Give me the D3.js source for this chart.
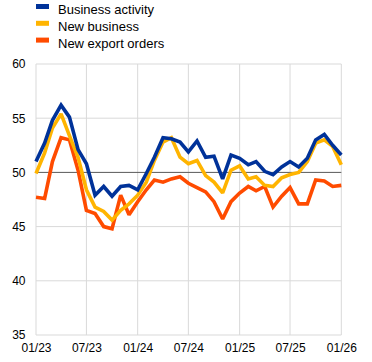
<!DOCTYPE html>
<html>
<head>
<meta charset="utf-8">
<script src="https://cdn.jsdelivr.net/npm/d3@7"></script>
<style>
  html, body { margin: 0; padding: 0; background: #fff; }
  svg { display: block; font-family: "Liberation Sans", Arial, sans-serif; }
</style>
</head>
<body>
<svg id="chart" width="372" height="362"></svg>
<script>
// Monthly PMI data, Jan 2023 – Jan 2026
const startMonth = "2023-01";
const businessActivity = [51.0, 52.7, 54.8, 56.2, 55.1, 52.1, 50.8, 47.9, 48.7, 47.8, 48.7, 48.8, 48.4,
  49.9, 51.4, 53.2, 53.1, 52.8, 51.9, 52.9, 51.4, 51.5, 49.4, 51.6, 51.3, 50.7, 51.0, 50.1, 49.8,
  50.5, 51.0, 50.5, 51.3, 53.0, 53.5, 52.5, 51.6];
const newBusiness = [49.9, 51.8, 54.1, 55.4, 53.4, 51.4, 48.4, 46.8, 46.4, 45.6, 46.5, 47.1, 47.9,
  49.1, 51.1, 52.8, 53.2, 51.4, 50.8, 51.1, 49.7, 49.1, 48.1, 50.2, 50.6, 49.4, 49.6, 48.8, 48.7,
  49.5, 49.8, 50.0, 51.0, 52.7, 53.0, 52.4, 50.7];
const newExportOrders = [47.7, 47.6, 51.0, 53.2, 53.0, 50.2, 46.5, 46.2, 45.0, 44.8, 47.9, 46.1, 47.3,
  48.4, 49.3, 49.1, 49.4, 49.6, 49.0, 48.6, 48.2, 47.3, 45.7, 47.3, 48.1, 48.7, 48.3, 48.7, 46.8,
  47.8, 48.6, 47.1, 47.1, 49.3, 49.2, 48.7, 48.8];
const seriesNames = ["Business activity", "New business", "New export orders"];
const seriesColors = ["#003299", "#FFB400", "#FF4B00"];
const yTicks = [35, 40, 45, 50, 55, 60];
const xTickLabels = ["01/23", "07/23", "01/24", "07/24", "01/25", "07/25", "01/26"];

(function () {
const parse = d3.timeParse("%Y-%m");
const fmt = d3.timeFormat("%m/%y");
const start = parse(startMonth);
const dates = businessActivity.map((_, i) => d3.timeMonth.offset(start, i));
const xTickDates = xTickLabels.map(l => {
  const [m, yy] = l.split("/");
  return parse("20" + yy + "-" + m);
});

const svg = d3.select("#chart");
const mLeft = 36, mRight = 341.3, mTop = 64, mBottom = 335;

const x = d3.scaleTime().domain([dates[0], dates[dates.length - 1]]).range([mLeft, mRight]);
const y = d3.scaleLinear().domain([35, 60]).range([mBottom, mTop]);

// Horizontal gridlines
svg.append("g").selectAll("line").data(yTicks.filter(t => t !== 50)).join("line")
  .attr("x1", mLeft).attr("x2", mRight)
  .attr("y1", d => y(d)).attr("y2", d => y(d))
  .attr("stroke", "#d9d9d9").attr("stroke-width", 1);

// Vertical gridlines
svg.append("g").selectAll("line").data(xTickDates).join("line")
  .attr("x1", d => x(d)).attr("x2", d => x(d))
  .attr("y1", mTop).attr("y2", mBottom)
  .attr("stroke", "#d9d9d9").attr("stroke-width", 1);

// 50 reference line
svg.append("line")
  .attr("x1", mLeft).attr("x2", mRight)
  .attr("y1", y(50)).attr("y2", y(50))
  .attr("stroke", "#595959").attr("stroke-width", 1);

// Y axis labels
const yAxis = d3.axisLeft(y).tickValues(yTicks).tickSize(0).tickPadding(0).tickFormat(d3.format("d"));
const gy = svg.append("g").attr("transform", `translate(${mLeft - 10.5},0)`).call(yAxis);
gy.select(".domain").remove();
gy.selectAll("text").attr("font-size", 12).attr("fill", "#000")
  .attr("font-family", "Liberation Sans, Arial, sans-serif");

// X axis labels
const xAxis = d3.axisBottom(x).tickValues(xTickDates).tickSize(0).tickPadding(0).tickFormat(fmt);
const gx = svg.append("g").attr("transform", `translate(0,${mBottom + 8})`).call(xAxis);
gx.select(".domain").remove();
gx.selectAll("text").attr("font-size", 12).attr("fill", "#000")
  .attr("font-family", "Liberation Sans, Arial, sans-serif");

// Lines (export orders first, business activity on top)
const allSeries = [businessActivity, newBusiness, newExportOrders];
const line = d3.line().x((d, i) => x(dates[i])).y(d => y(d));
[2, 1, 0].forEach(k => {
  svg.append("path")
    .datum(allSeries[k])
    .attr("fill", "none")
    .attr("stroke", seriesColors[k])
    .attr("stroke-width", 3.6)
    .attr("stroke-linejoin", "miter")
    .attr("stroke-miterlimit", 2)
    .attr("d", line);
});

// Legend
const legend = svg.append("g");
seriesNames.forEach((name, i) => {
  const cy = 6.5 + i * 16.8;
  legend.append("rect")
    .attr("x", 36).attr("y", cy - 2.5).attr("width", 13).attr("height", 5)
    .attr("fill", seriesColors[i]);
  legend.append("text")
    .attr("x", 58).attr("y", cy + 7.5)
    .attr("font-size", 13).attr("fill", "#000")
    .text(name);
});
})();
</script>
</body>
</html>
